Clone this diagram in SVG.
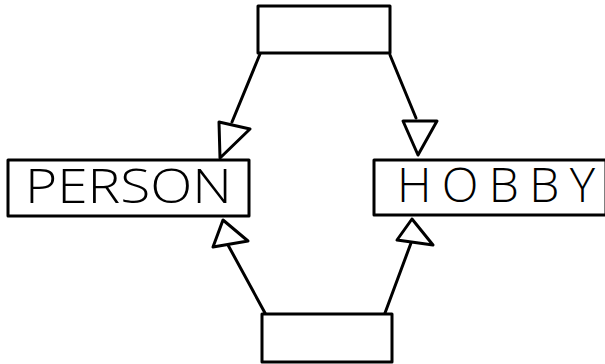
<svg xmlns="http://www.w3.org/2000/svg" width="605" height="364" viewBox="0 0 605 364">
<style>
.box{fill:#fff;stroke:#000;stroke-width:3;stroke-linejoin:round}
.ln{fill:none;stroke:#000;stroke-width:3;stroke-linecap:round}
.head{fill:#fff;stroke:#000;stroke-width:3;stroke-linejoin:round}
.lbl{font-family:"Open Sans","Liberation Sans",Arial,sans-serif;font-weight:300;font-size:48px;fill:#000}
</style>
<rect width="605" height="364" fill="#fff"/>
<g id="connectors">
<polyline class="ln" points="260,54 232,122"/>
<polygon class="head" points="219,122 250,129 220,158"/>
<polyline class="ln" points="390,55 416,118"/>
<polygon class="head" points="403,121 437,121 418,155"/>
<polyline class="ln" points="265,313 228,245"/>
<polygon class="head" points="213,247 248,241 223,220"/>
<polyline class="ln" points="385,313 411,243"/>
<polygon class="head" points="397,240 433,245 412,219"/>
</g>
<g id="top">
<rect class="box" x="258" y="6" width="132" height="47"/>
</g>
<g id="bottom">
<rect class="box" x="262" y="314" width="130" height="48"/>
</g>
<g id="person">
<rect class="box" x="8" y="160" width="241" height="56"/>
<text class="lbl" x="25" y="203" textLength="207" lengthAdjust="spacingAndGlyphs">PERSON</text>
</g>
<g id="hobby">
<rect class="box" x="374" y="160" width="232" height="55"/>
<text class="lbl" x="397" y="202" textLength="198" lengthAdjust="spacing">HOBBY</text>
</g>
</svg>
